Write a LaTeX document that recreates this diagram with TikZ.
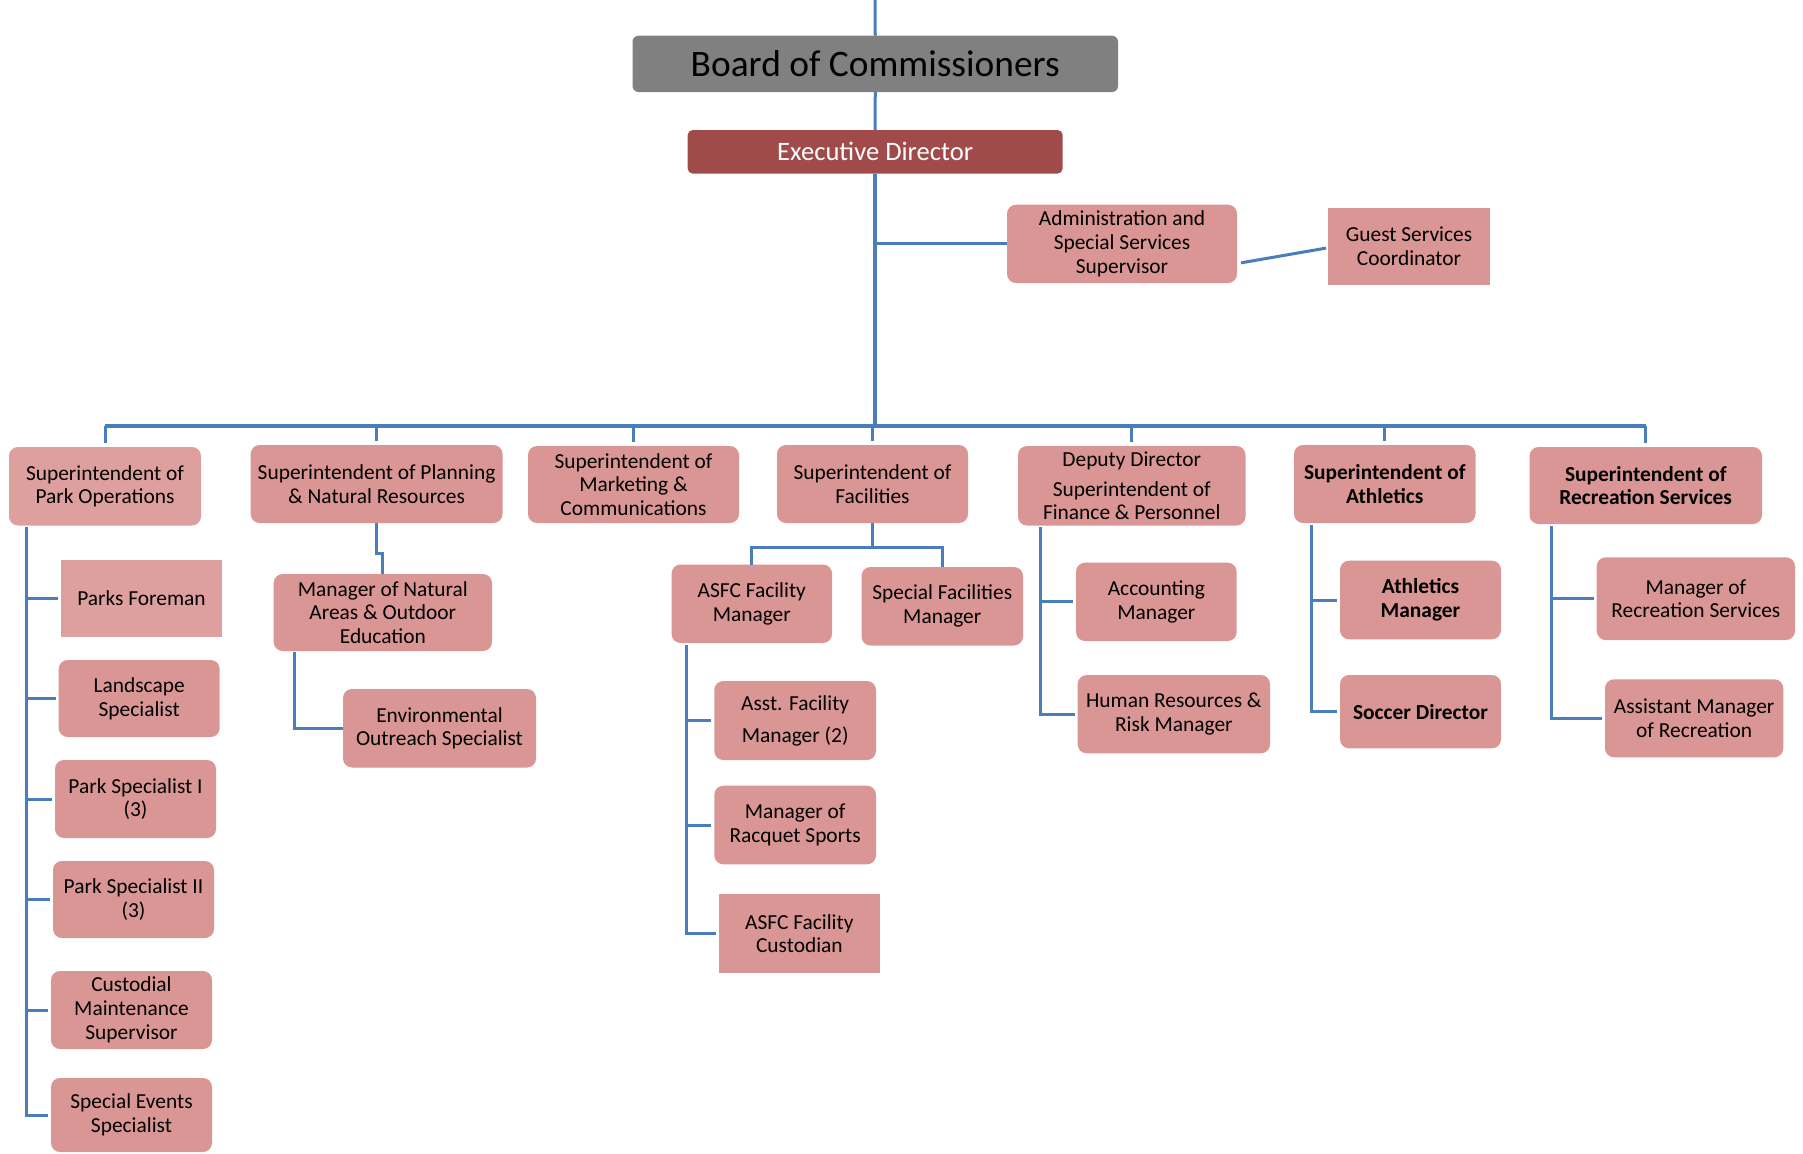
\documentclass[tikz,border=0pt]{standalone}
\usepackage{fontspec}
\setmainfont{Carlito}
\usetikzlibrary{calc}
\definecolor{pinkbox}{HTML}{D99694}
\definecolor{pinklight}{HTML}{DDA09F}
\definecolor{execred}{HTML}{A04B49}
\definecolor{boardgray}{HTML}{808080}
\definecolor{linkblue}{HTML}{4A7EBB}
\tikzset{
  base/.style={inner sep=0pt, outer sep=0pt, align=center, text=black,
    font=\fontsize{10.7}{11.9}\selectfont},
  rbox/.style={base, fill=pinkbox, rounded corners=4.5pt},
  rboxlight/.style={base, fill=pinklight, rounded corners=4.5pt},
  sbox/.style={base, fill=pinkbox},
  sboxlight/.style={base, fill=pinklight},
  boldbox/.style={rbox, font=\fontsize{10.7}{11.9}\selectfont\bfseries},
  boardbox/.style={base, fill=boardgray, rounded corners=3pt,
    font=\fontsize{18.7}{22}\selectfont},
  execbox/.style={base, fill=execred, rounded corners=2.5pt, text=white,
    font=\fontsize{13.3}{16}\selectfont},
  conn/.style={draw=linkblue, line width=1.5pt},
  thickconn/.style={draw=linkblue, line width=2pt},
}
\newcommand\orgbox[7]{\node[#1, minimum width={(#5-#3)*0.5pt}, minimum height={(#6-#4)*0.5pt}] (#2) at ({(#3+#5)/2},{(#4+#6)/2}) {#7};}
\begin{document}
\begin{tikzpicture}[x=0.5pt, y=-0.5pt]
\useasboundingbox (0,0) rectangle (1803,1153);
\fill[white] (0,0) rectangle (1803,1153);

% top
\orgbox{boardbox}{board}{632.5}{35.7}{1118}{92}{Board of Commissioners}
\orgbox{execbox}{exec}{687.7}{130}{1062.6}{173.6}{Executive Director}
\orgbox{rbox}{admin}{1007}{204.7}{1237}{283}{Administration and\\Special Services\\Supervisor}
\orgbox{sbox}{guest}{1328}{208}{1490}{285}{Guest Services\\Coordinator}

% level 1
\orgbox{rboxlight}{parkops}{9}{447}{201}{525.5}{Superintendent of\\Park Operations}
\orgbox{rbox}{planning}{250.7}{445}{502.5}{523}{Superintendent of Planning\\\& Natural Resources}
\orgbox{rbox}{marketing}{528}{446}{739}{523}{Superintendent of\\Marketing \&\\Communications}
\orgbox{rbox}{facilities}{777}{445}{968}{523}{Superintendent of\\Facilities}
\orgbox{rbox}{deputy}{1018}{446}{1245.5}{525.5}{Deputy Director\\[3pt]Superintendent of\\Finance \& Personnel}
\orgbox{boldbox}{athletics}{1294}{445}{1475.5}{523}{Superintendent of\\Athletics}
\orgbox{boldbox}{recreation}{1529.5}{447}{1762}{524}{Superintendent of\\Recreation Services}

% park operations children
\orgbox{sboxlight}{foreman}{61}{560}{222}{637}{Parks Foreman}
\orgbox{rbox}{landscape}{58.7}{660}{219.7}{737}{Landscape\\Specialist}
\orgbox{rbox}{parkspecA}{55}{760}{216}{838}{Park Specialist I\\(3)}
\orgbox{rbox}{parkspecB}{53}{861}{214}{938}{Park Specialist II\\(3)}
\orgbox{rbox}{custodial}{51}{971}{212}{1049}{Custodial\\Maintenance\\Supervisor}
\orgbox{rbox}{events}{51}{1078}{212}{1152}{Special Events\\Specialist}

% planning children
\orgbox{rbox}{natural}{273.7}{574}{492}{651}{Manager of Natural\\Areas \& Outdoor\\Education}
\orgbox{rbox}{environ}{343}{689}{536}{767.5}{Environmental\\Outreach Specialist}

% facilities children
\orgbox{rbox}{asfcmgr}{671.6}{564.5}{832}{643}{ASFC Facility\\Manager}
\orgbox{rbox}{specfac}{861.5}{567}{1023}{645.5}{Special Facilities\\Manager}
\orgbox{rbox}{asst}{714.3}{681}{876}{760}{Asst. Facility\\[4pt]Manager (2)}
\orgbox{rbox}{racquet}{714.3}{785.7}{876}{864.3}{Manager of\\Racquet Sports}
\orgbox{sbox}{custodian}{718.7}{894}{880}{973.3}{ASFC Facility\\Custodian}

% deputy children
\orgbox{rbox}{accounting}{1076}{562.7}{1236.7}{641}{Accounting\\Manager}
\orgbox{rbox}{hr}{1077.7}{675}{1270}{753.3}{Human Resources \&\\Risk Manager}

% athletics children
\orgbox{boldbox}{athmgr}{1340}{560.7}{1501}{639.3}{Athletics\\Manager}
\orgbox{boldbox}{soccer}{1340}{675}{1501}{748.3}{Soccer Director}

% recreation children
\orgbox{rbox}{mgrrec}{1596.7}{557.3}{1795}{640}{Manager of\\Recreation Services}
\orgbox{rbox}{asstrec}{1605}{679.3}{1783.3}{757.3}{Assistant Manager\\of Recreation}

% ---------- connectors ----------
\coordinate (topend) at (875,0);
\coordinate (bar) at (875,426);
\draw[conn] (topend) -- (board.north);
\draw[conn] (board.south) -- (exec.north);
\draw[thickconn] (exec.south) -- (exec.south |- bar);
\draw[conn] (exec.south |- admin.west) -- (admin.west);
\draw[conn] ([yshift=-9.5pt,xshift=2pt]admin.east) -- ([yshift=-0.8pt,xshift=-1pt]guest.west);

\draw[thickconn] (parkops.north |- bar) -- (recreation.north |- bar);
\foreach \n in {parkops,planning,marketing,facilities,deputy,athletics,recreation}
  \draw[conn] (\n.north |- bar) -- ([yshift=2pt]\n.north);

% park ops
\coordinate (po-v) at (26.5,527);
\foreach \n in {foreman,landscape,parkspecA,parkspecB,custodial,events}
  \draw[conn] (po-v) |- ([xshift=-1.5pt]\n.west);

% planning
\coordinate (pl-j) at (0,553);
\draw[conn] (planning.south) -- (planning.south |- pl-j) -- (natural.north |- pl-j) -- (natural.north);
\coordinate (nat-v) at (294,652);
\draw[conn] (nat-v) |- (environ.west);

% facilities
\coordinate (fac-j) at (874,547);
\draw[conn] (facilities.south) -- (facilities.south |- fac-j);
\draw[conn] (asfcmgr.north) |- (fac-j) -| (specfac.north);
\coordinate (asfc-v) at (686,645);
\foreach \n in {asst,racquet,custodian}
  \draw[conn] (asfc-v) |- ([xshift=-1.5pt]\n.west);

% deputy
\coordinate (dep-v) at (1040,527);
\foreach \n in {accounting,hr}
  \draw[conn] (dep-v) |- ([xshift=-1.5pt]\n.west);

% athletics
\coordinate (ath-v) at (1311,525);
\foreach \n in {athmgr,soccer}
  \draw[conn] (ath-v) |- ([xshift=-1.5pt]\n.west);

% recreation
\coordinate (rec-v) at (1551,526);
\foreach \n in {mgrrec,asstrec}
  \draw[conn] (rec-v) |- ([xshift=-1.5pt]\n.west);
\end{tikzpicture}
\end{document}
